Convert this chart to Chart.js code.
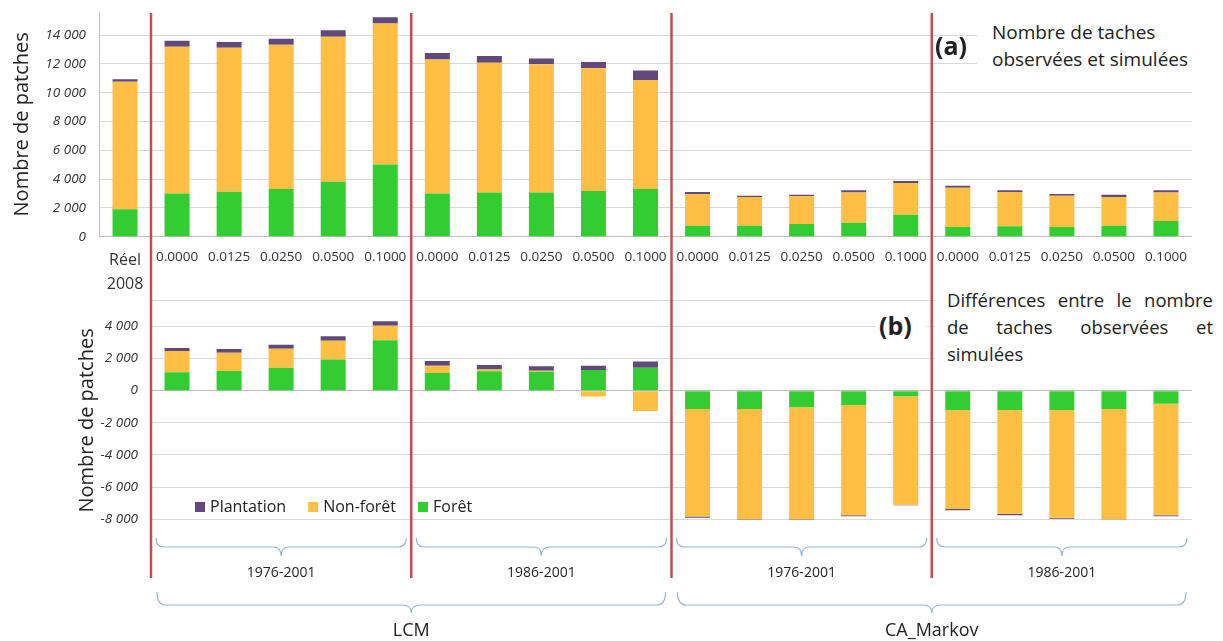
<!DOCTYPE html>
<html>
<head>
<meta charset="utf-8">
<script src="https://cdn.jsdelivr.net/npm/chart.js@4"></script>
<style>
body { margin:0; background:#fff; width:1223px; height:641px; overflow:hidden; position:relative; font-family:"Open Sans", sans-serif; color:#222; }
canvas { position:absolute; left:0; top:0; }
#cTop { z-index:1; }
#cBot { z-index:2; }
#overlay { z-index:4; pointer-events:none; }
.box { position:absolute; background:#fff; z-index:3; font-size:19px; line-height:27px; color:#222; white-space:nowrap; }
.tag { position:absolute; z-index:3; font-size:25px; font-weight:bold; color:#222; }
.just { width:266px; text-align:justify; text-align-last:justify; }
</style>
</head>
<body>
<canvas id="cTop" width="1223" height="300"></canvas>
<canvas id="cBot" width="1223" height="641"></canvas>
<div class="tag" style="left:935px;top:28px;">(a)</div>
<div class="box" style="left:977px;top:19px;width:226px;height:60px;padding-left:15px;box-sizing:border-box;">Nombre de taches<br>observées et simulées</div>
<div class="tag" style="left:876px;top:308px;background:#fff;padding:0 14px 0 3px;">(b)</div>
<div class="box" style="left:935px;top:286px;width:285px;height:84px;padding-left:12px;box-sizing:border-box;font-size:18.5px;">
  <div class="just">Différences entre le nombre</div>
  <div class="just">de taches observées et</div>
  <div>simulées</div>
</div>
<canvas id="overlay" width="1223" height="641"></canvas>
<script>
// --- DONNEES ---
const rates = ['0.0000', '0.0125', '0.0250', '0.0500', '0.1000'];
const periods = ['1976-2001', '1986-2001', '1976-2001', '1986-2001'];
const models = ['LCM', 'CA_Markov'];
const topLabels = [['Réel', '2008']].concat(rates, rates, rates, rates);
const botLabels = [].concat(rates, rates, rates, rates);

// (a) nombre de taches observées (Réel 2008) et simulées
const topForet      = [1900, 3000, 3120, 3310, 3820, 5020, 3000, 3060, 3060, 3170, 3310, 760, 760, 880, 970, 1530, 670, 720, 670, 760, 1090];
const topNonForet   = [8860, 10190, 10000, 10020, 10070, 9790, 9310, 9020, 8910, 8520, 7570, 2180, 1990, 1920, 2090, 2200, 2730, 2380, 2180, 1990, 1970];
const topPlantation = [170, 420, 400, 420, 440, 420, 440, 470, 410, 440, 650, 160, 100, 120, 160, 140, 140, 120, 110, 170, 160];

// (b) différences simulé - observé
const diffForet      = [1140, 1220, 1430, 1930, 3130, 1100, 1200, 1180, 1280, 1430, -1140, -1140, -1040, -890, -350, -1200, -1200, -1200, -1140, -810];
const diffNonForet   = [1330, 1140, 1180, 1180, 910, 450, 110, 50, -370, -1260, -6690, -6860, -6960, -6860, -6740, -6160, -6450, -6700, -6860, -6940];
const diffPlantation = [180, 230, 250, 270, 270, 290, 290, 290, 270, 390, -70, -30, -30, -60, -30, -80, -100, -60, -20, -60];

const topTicks = [0, 2000, 4000, 6000, 8000, 10000, 12000, 14000];
const botTicks = [-8000, -6000, -4000, -2000, 0, 2000, 4000];

const colForet = '#33cc33', colNon = '#ffbf45', colPlant = '#604a7b';
const fam = '"Open Sans", sans-serif';

function fmt(v) {
  const s = String(Math.abs(v)).replace(/\B(?=(\d{3})+(?!\d))/g, ' ');
  return (v < 0 ? '-' : '') + s;
}

function makeSets(f, n, p) {
  return [
    { label: 'Forêt', data: f, backgroundColor: colForet },
    { label: 'Non-forêt', data: n, backgroundColor: colNon },
    { label: 'Plantation', data: p, backgroundColor: colPlant }
  ];
}

const gridCol = c => (c.tick && c.tick.value === 0) ? '#bfbfbf' : '#d9d9d9';

// --- GRAPHE (a) ---
const chartTop = new Chart(document.getElementById('cTop'), {
  type: 'bar',
  data: { labels: topLabels, datasets: makeSets(topForet, topNonForet, topPlantation) },
  options: {
    responsive: false, animation: false,
    layout: { padding: { top: 12, right: 31, left: 0, bottom: 0 } },
    plugins: { legend: { display: false }, tooltip: { enabled: false } },
    datasets: { bar: { barPercentage: 0.48, categoryPercentage: 1 } },
    scales: {
      x: {
        stacked: true,
        grid: { display: false, drawTicks: false },
        border: { display: false },
        ticks: {
          padding: 12, color: '#333', maxRotation: 0, autoSkip: false,
          font: c => c.index === 0 ? { family: fam, size: 16, lineHeight: 1.5 } : { family: fam, size: 13.5 }
        },
        afterFit: s => { s.height = 63.3; }
      },
      y: {
        stacked: true, min: 0, max: 15600,
        afterBuildTicks: s => { s.ticks = topTicks.map(v => ({ value: v })); },
        afterFit: s => { s.width = 99; s.paddingTop = 0; s.paddingBottom = 0; },
        grid: { color: gridCol, drawTicks: false },
        border: { display: true, color: '#bfbfbf' },
        ticks: { padding: 13, color: '#333', font: { family: fam, size: 13.5, style: 'italic' }, callback: v => fmt(v) },
        title: { display: true, text: 'Nombre de patches', color: '#222', font: { family: fam, size: 20 }, padding: { top: 10 } }
      }
    }
  }
});

// --- DECOR : légende, lignes rouges, accolades ---
const decor = {
  id: 'decor',
  afterDraw(chart) {
    const c = chart.ctx;
    // légende dans la zone du graphe (b)
    c.save();
    c.font = '16px ' + fam;
    c.textBaseline = 'middle';
    let lx = 195;
    const ly = 507;
    chart.data.datasets.slice().reverse().forEach(ds => {
      c.fillStyle = ds.backgroundColor;
      c.fillRect(lx, ly - 5, 10, 10);
      c.fillStyle = '#222';
      c.fillText(ds.label, lx + 15, ly);
      lx += 15 + c.measureText(ds.label).width + 22;
    });
    c.restore();

    // lignes rouges et accolades sur le calque au-dessus
    const o = document.getElementById('overlay').getContext('2d');
    o.clearRect(0, 0, 1223, 641);
    const xs = chart.scales.x;
    const step = xs.getPixelForValue(1) - xs.getPixelForValue(0);
    const edge = i => xs.getPixelForValue(i) - step / 2;

    o.strokeStyle = '#c0504d';
    o.lineWidth = 2.5;
    [0, 5, 10, 15].forEach(i => {
      const x = edge(i);
      o.beginPath(); o.moveTo(x, 13); o.lineTo(x, 578); o.stroke();
    });

    function brace(x0, x1, yTop, yMid, yTip, r) {
      const xm = (x0 + x1) / 2;
      o.beginPath();
      o.moveTo(x0, yTop);
      o.quadraticCurveTo(x0, yMid, x0 + r, yMid);
      o.lineTo(xm - r, yMid);
      o.quadraticCurveTo(xm, yMid, xm, yTip);
      o.quadraticCurveTo(xm, yMid, xm + r, yMid);
      o.lineTo(x1 - r, yMid);
      o.quadraticCurveTo(x1, yMid, x1, yTop);
      o.stroke();
    }
    o.strokeStyle = '#95b3d7';
    o.lineWidth = 1.2;
    o.fillStyle = '#222';
    o.textAlign = 'center';
    o.textBaseline = 'middle';
    periods.forEach((p, g) => {
      const x0 = edge(g * 5) + 5, x1 = edge(g * 5 + 5) - 5;
      brace(x0, x1, 538, 547, 556, 8);
      o.font = '14px ' + fam;
      o.fillText(p, (x0 + x1) / 2, 573);
    });
    models.forEach((m, g) => {
      const x0 = edge(g * 10) + 6, x1 = edge(g * 10 + 10) - 6;
      brace(x0, x1, 592, 605, 613, 9);
      o.font = '18px ' + fam;
      o.fillText(m, (x0 + x1) / 2, 631);
    });
  }
};

// --- GRAPHE (b) ---
const chartBot = new Chart(document.getElementById('cBot'), {
  type: 'bar',
  data: { labels: botLabels, datasets: makeSets(diffForet, diffNonForet, diffPlantation) },
  options: {
    responsive: false, animation: false,
    layout: { padding: { top: 300.6, right: 31, left: 0, bottom: 100.8 } },
    plugins: { legend: { display: false }, tooltip: { enabled: false } },
    datasets: { bar: { barPercentage: 0.48, categoryPercentage: 1 } },
    scales: {
      x: { stacked: true, display: false },
      y: {
        stacked: true, min: -9300, max: 5600,
        afterBuildTicks: s => { s.ticks = botTicks.concat([5600]).map(v => ({ value: v })); },
        afterFit: s => { s.width = 151; },
        grid: { color: gridCol, drawTicks: false },
        border: { display: false },
        ticks: {
          padding: 13, color: '#333', font: { family: fam, size: 13.5, style: 'italic' },
          callback: v => botTicks.includes(v) ? fmt(v) : ''
        },
        title: { display: true, text: 'Nombre de patches', color: '#222', font: { family: fam, size: 20 }, padding: { top: 75 } }
      }
    }
  },
  plugins: [decor]
});
</script>
</body>
</html>
